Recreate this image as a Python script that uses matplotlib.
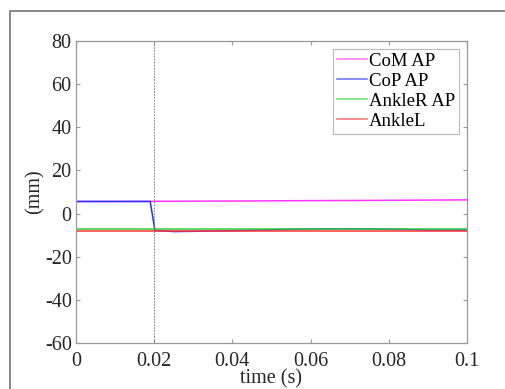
import matplotlib.pyplot as plt
from matplotlib.patches import Rectangle

# sample times (s) and traces (mm)
time = [0, 0.005, 0.01, 0.015, 0.019, 0.0202, 0.025, 0.03, 0.04, 0.05, 0.06, 0.07, 0.08, 0.09, 0.1]
com_ap = [5.6, 5.6, 5.6, 5.65, 5.65, 5.7, 5.7, 5.75, 5.8, 5.9, 6.0, 6.05, 6.15, 6.25, 6.35]
cop_ap = [5.6, 5.6, 5.6, 5.6, 5.6, -7.8, -8.3, -8.2, -7.9, -7.5, -7.1, -7.0, -7.2, -7.6, -7.6]
ankle_r = [-7.3] * len(time)
ankle_l = [-8.0] * len(time)
labels = ['CoM AP', 'CoP AP', 'AnkleR AP', 'AnkleL']
event_t = 0.02

plt.rcParams['font.family'] = ['Liberation Serif', 'DejaVu Serif']
plt.rcParams['axes.unicode_minus'] = False

fig = plt.figure(figsize=(5.06, 3.89), dpi=100)
fig.patches.append(Rectangle((10 / 506, -0.1), 1.2, 1 - 11 / 389 + 0.1,
                             transform=fig.transFigure, fill=False,
                             edgecolor='#808080', linewidth=1.3))
ax = fig.add_axes([0.150, 0.1175, 0.773, 0.778])

ax.plot(time, com_ap, color='#ff33ff', lw=1.1, label=labels[0])
ax.plot(time, cop_ap, color='#2233ff', lw=1.1, label=labels[1])
ax.plot(time, ankle_r, color='#33cc33', lw=1.1, label=labels[2])
ax.plot(time, ankle_l, color='#ff3333', lw=1.1, label=labels[3])
ax.axvline(event_t, color='#707070', ls='--', lw=0.6, dashes=(2, 1.5))

ax.set_xlim(0, 0.1)
ax.set_ylim(-60, 80)
ax.set_xticks([0, 0.02, 0.04, 0.06, 0.08, 0.1])
ax.set_xticklabels(['0', '0.02', '0.04', '0.06', '0.08', '0.1'])
ax.set_yticks(range(-60, 81, 20))
ax.tick_params(direction='in', top=True, right=True, length=3, width=0.8,
               color='#999999', labelsize=14.5, labelcolor='#262626')
ax.tick_params(axis='x', pad=6)
ax.tick_params(axis='y', pad=3)
for s in ax.spines.values():
    s.set_color('#999999')
    s.set_linewidth(0.9)

ax.set_xlabel('time (s)', fontsize=14.5, color='#262626', labelpad=-1)
ax.set_ylabel('(mm)', fontsize=14.5, color='#262626', labelpad=0)

leg = ax.legend(loc='upper right', fontsize=13.5, handlelength=1.6, handletextpad=0.1,
                borderpad=0.2, labelspacing=0.15, borderaxespad=0.45, fancybox=False,
                framealpha=1)
leg.get_frame().set_edgecolor('#bbbbbb')
leg.get_frame().set_linewidth(0.8)
for h in leg.get_lines():
    h.set_alpha(0.7)

fig.savefig('out.png', dpi=100)
